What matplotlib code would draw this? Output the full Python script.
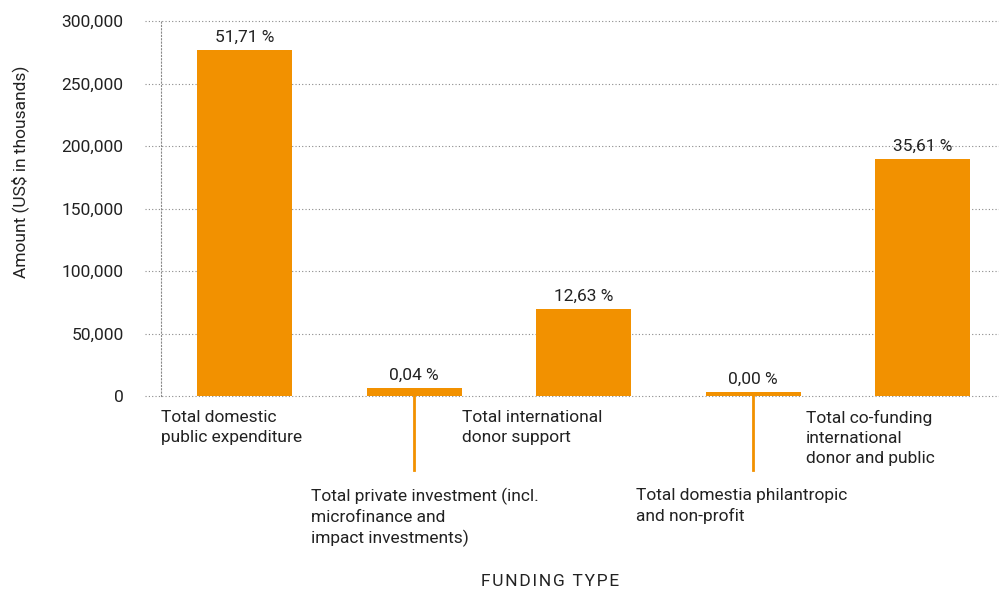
import matplotlib
matplotlib.use("Agg")
import matplotlib.pyplot as plt
from matplotlib.ticker import FuncFormatter

categories = [
    "Total domestic\npublic expenditure",
    "Total private investment (incl.\nmicrofinance and\nimpact investments)",
    "Total international\ndonor support",
    "Total domestia philantropic\nand non-profit",
    "Total co-funding\ninternational\ndonor and public",
]
amounts = [276800, 6400, 69600, 3200, 189600]
shares = ["51,71 %", "0,04 %", "12,63 %", "0,00 %", "35,61 %"]
yticks = [0, 50000, 100000, 150000, 200000, 250000, 300000]

orange = "#F29100"
text_col = "#222222"
grid_col = "#8a8a8a"

plt.rcParams["font.family"] = ["Roboto", "DejaVu Sans"]
plt.rcParams["font.size"] = 12.5

fig = plt.figure(figsize=(9.99, 5.91), dpi=100)
ax = fig.add_axes([161 / 999, 1 - 396 / 591, (999 - 161) / 999, 375 / 591])

x = list(range(len(categories)))
ax.bar(x, amounts, width=0.56, color=orange, zorder=3)

ax.set_xlim(-0.493, 4.45)
ax.set_ylim(0, 300000)
ax.set_yticks(yticks)
ax.yaxis.set_major_formatter(FuncFormatter(lambda v, p: f"{int(v):,}"))
ax.tick_params(axis="y", length=0, pad=27, colors=text_col, labelsize=12.5)
ax.set_xticks([])

for s in ["top", "right", "bottom"]:
    ax.spines[s].set_visible(False)
ax.spines["left"].set_linestyle((0, (1, 2)))
ax.spines["left"].set_color(grid_col)
ax.spines["left"].set_linewidth(0.8)

# dotted grid lines, running a little left of the axis
for t in yticks:
    ax.plot([-0.59, 4.45], [t, t], ls=(0, (1, 2)), color=grid_col, lw=0.8,
            clip_on=False, zorder=1)

for i, (v, s) in enumerate(zip(amounts, shares)):
    ax.annotate(s, (i, v), xytext=(0, 4), textcoords="offset points",
                ha="center", va="bottom", color=text_col, fontsize=12.5)

# category labels: odd ones near the axis, even ones under a leader line
label_dx = [-0.493, -0.61, -0.72, -0.69, -0.69]
for i, name in enumerate(categories):
    if i % 2 == 0:
        ax.annotate(name, (i + label_dx[i], 0), xytext=(0, -10),
                    textcoords="offset points", ha="left", va="top",
                    color=text_col, fontsize=12.5, linespacing=1.4)
    else:
        ax.plot([i, i], [0, -74 * 800], color=orange, lw=2, clip_on=False)
        ax.annotate(name, (i + label_dx[i], 0), xytext=(0, -66),
                    textcoords="offset points", ha="left", va="top",
                    color=text_col, fontsize=12.5, linespacing=1.4)

fig.text(20 / 999, 1 - 172 / 591, "Amount (US$ in thousands)", rotation=90,
         ha="center", va="center", color=text_col, fontsize=12.5)
fig.text(550 / 999, 1 - 582 / 591, "\u200a".join("FUNDING TYPE"),
         ha="center", va="center", color=text_col, fontsize=12.5)

fig.savefig("out.png", dpi=100)
